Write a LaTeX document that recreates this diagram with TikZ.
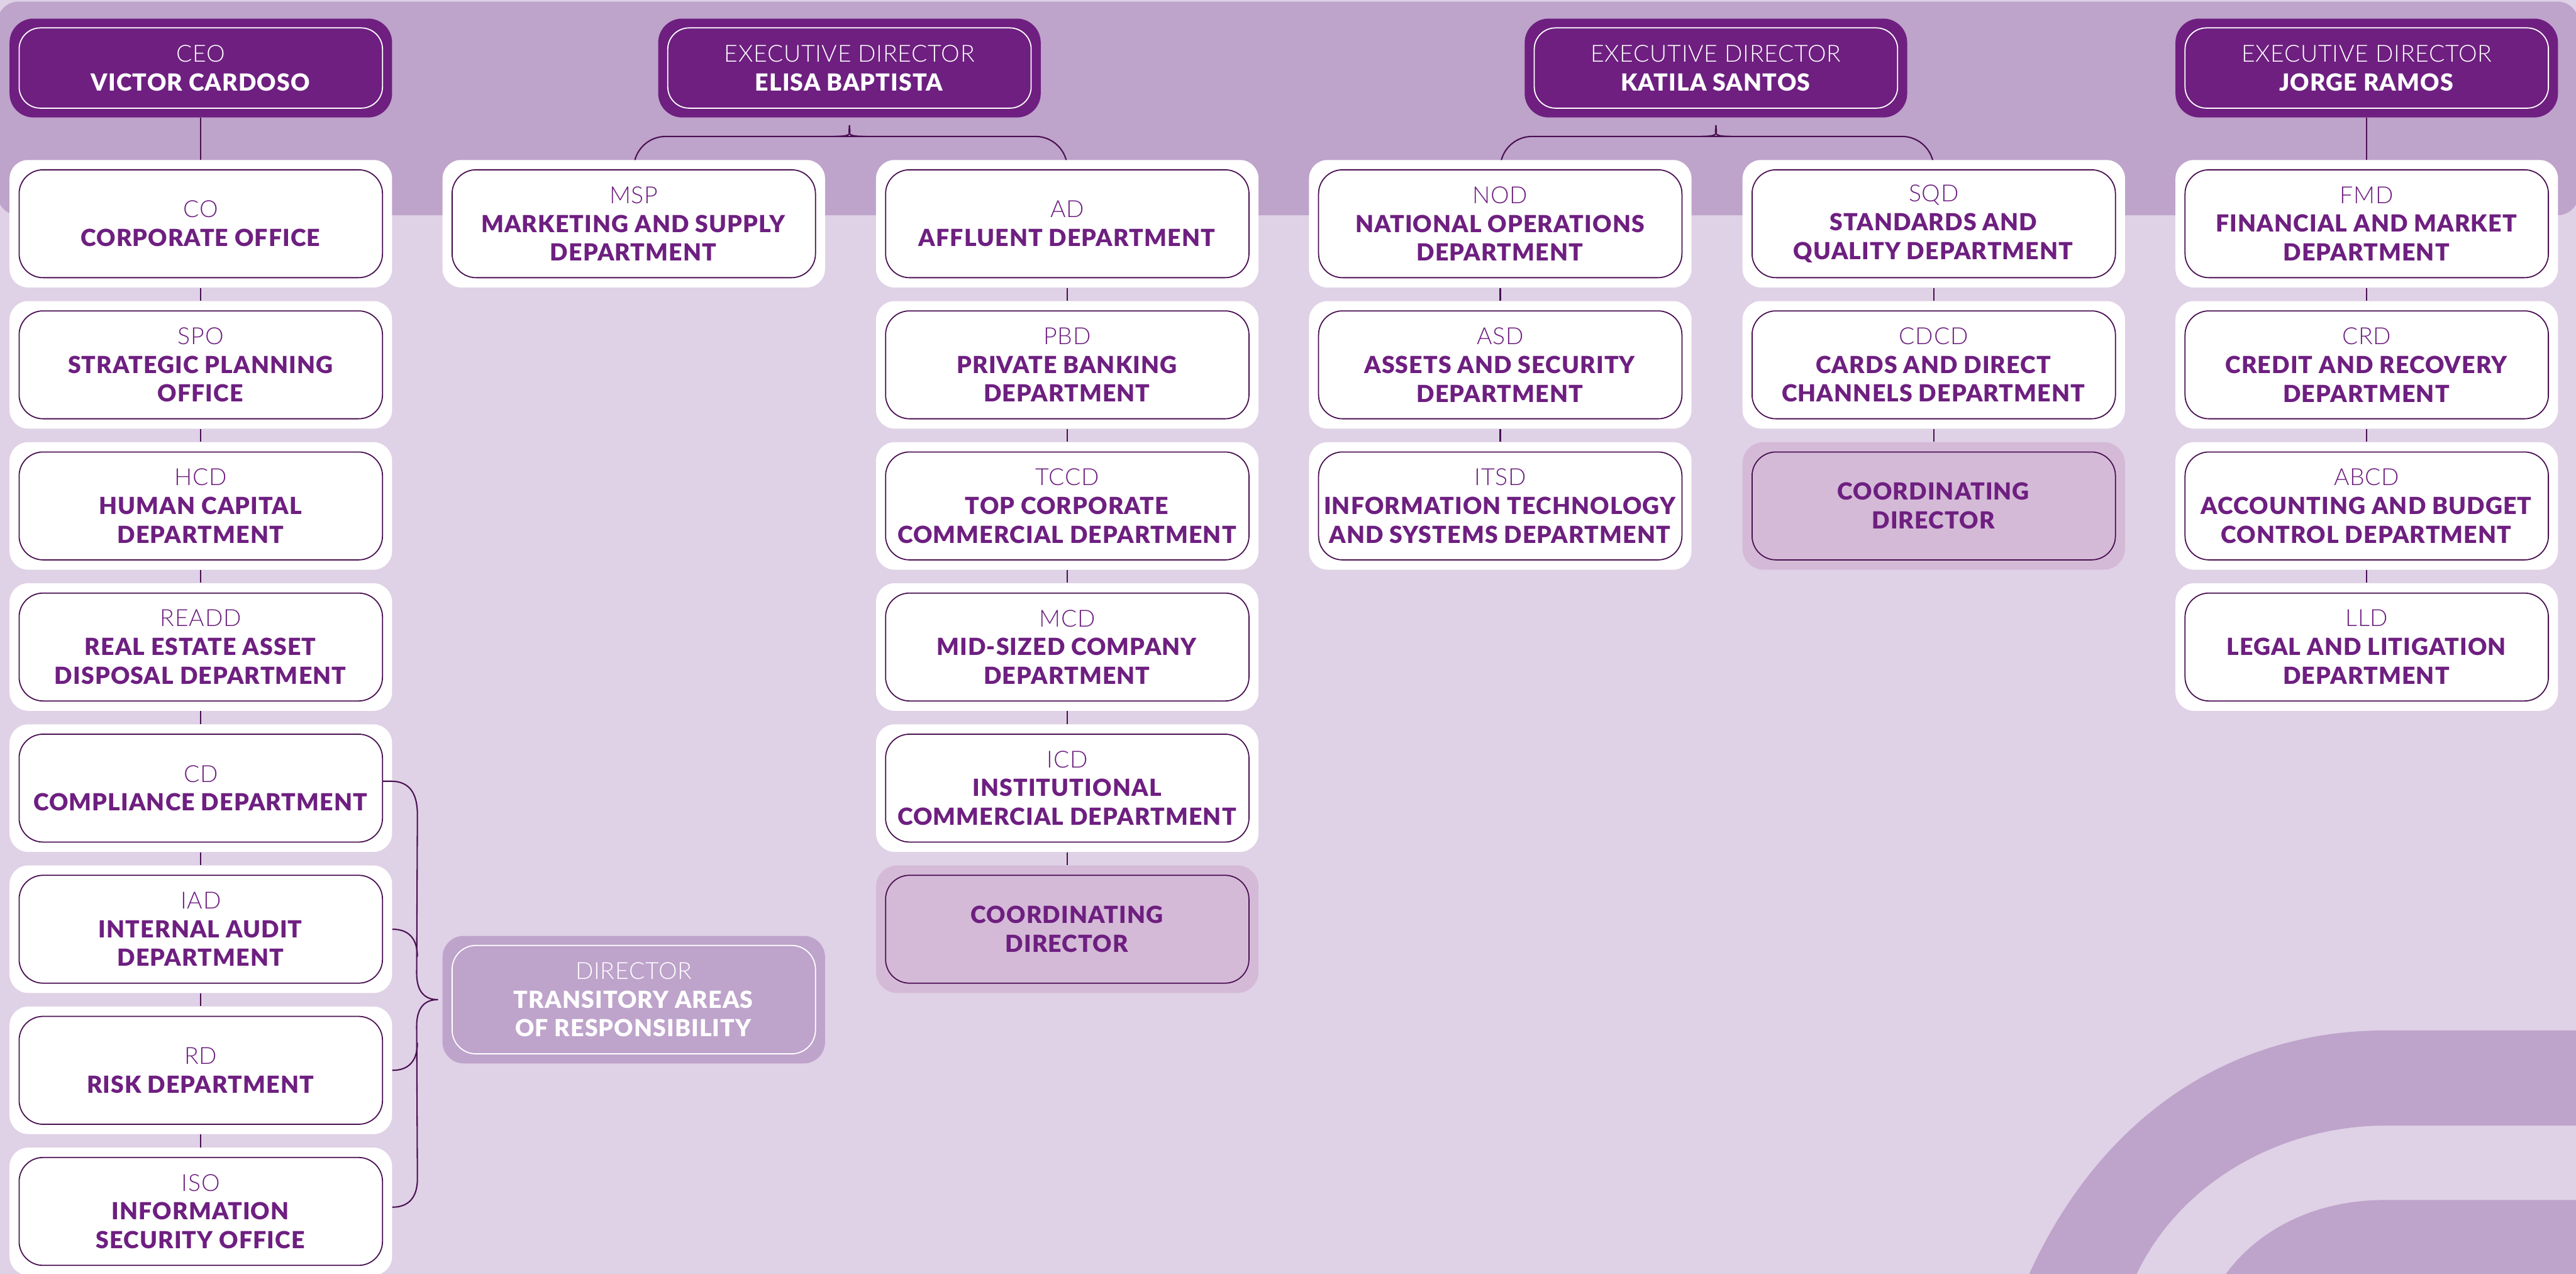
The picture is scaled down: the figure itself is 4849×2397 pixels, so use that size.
\documentclass[tikz,border=0pt]{standalone}
\usepackage{fontspec}
\setmainfont{Lato}[BoldFont={Lato Black}, BoldFeatures={LetterSpace=3}]
\newfontfamily\lightf{Lato Light}[LetterSpace=2]
\usetikzlibrary{calc}

\definecolor{bgc}{HTML}{DFD1E6}
\definecolor{bandc}{HTML}{BEA3CB}
\definecolor{purp}{HTML}{6E1F80}
\definecolor{linec}{HTML}{4A1052}
\definecolor{coordc}{HTML}{D4BAD7}

\pgfdeclarelayer{back}
\pgfdeclarelayer{links}
\pgfsetlayers{back,links,main}

\newcommand\bt[1]{\textbf{#1}}
\newcommand\lt[1]{{\lightf #1}}

\tikzset{
  boxfont/.style={font=\fontsize{12.6}{15.4}\selectfont},
  deptouter/.style={rectangle, rounded corners=3.5mm, minimum width=72mm, minimum height=24mm, inner sep=0pt, fill=white},
  deptinner/.style={rectangle, rounded corners=4.5mm, minimum width=68.4mm, minimum height=20.3mm, inner sep=0pt,
    draw=linec, line width=0.6pt, fill=white, text=purp, align=center, boxfont},
  hdouter/.style={rectangle, rounded corners=4.5mm, minimum width=72mm, minimum height=18.6mm, inner sep=0pt, fill=purp},
  hdinner/.style={rectangle, rounded corners=4mm, minimum width=68.4mm, minimum height=15.1mm, inner sep=0pt,
    draw=white, line width=0.6pt, text=white, align=center, boxfont},
  coouter/.style={rectangle, rounded corners=4mm, minimum width=72mm, minimum height=24mm, inner sep=0pt, fill=coordc},
  coinner/.style={rectangle, rounded corners=4.5mm, minimum width=68.4mm, minimum height=20.3mm, inner sep=0pt,
    draw=linec, line width=0.6pt, text=purp, align=center, boxfont},
  trouter/.style={rectangle, rounded corners=4mm, minimum width=72mm, minimum height=24mm, inner sep=0pt, fill=bandc},
  trinner/.style={rectangle, rounded corners=4.5mm, minimum width=68.4mm, minimum height=20.4mm, inner sep=0pt,
    draw=white, line width=0.6pt, text=white, align=center, boxfont},
  conn/.style={draw=linec, line width=0.7pt},
}

% department box: name, x, y, acronym, title lines
\newcommand\deptbox[5]{%
  \node[deptouter] (#1) at (#2,#3) {};
  \node[deptinner] (#1-in) at (#2,#3) {\lt{#4}\\#5};}
% executive box: name, x, y, role, person
\newcommand\headbox[5]{%
  \node[hdouter] (#1) at (#2,#3) {};
  \node[hdinner] (#1-in) at (#2,#3) {\lt{#4}\\\bt{#5}};}
% coordinating director box: name, x, y
\newcommand\coordbox[3]{%
  \node[coouter] (#1) at (#2,#3) {};
  \node[coinner] (#1-in) at (#2,#3) {\bt{COORDINATING}\\\bt{DIRECTOR}};}

\begin{document}
\begin{tikzpicture}[x=0.1mm, y=-0.1mm]
\useasboundingbox (0,0) rectangle (4849,2397);

\begin{pgfonlayer}{back}
  \fill[bgc] (0,0) rectangle (4849,2397);
  \fill[bandc, rounded corners=4mm] (-5,3) rectangle (4854,405);
  % decorative stripes, lower right
  \fill[bandc] (4489,1939) -- (4870,1939) -- (4870,2118) -- (4489,2118)
    .. controls (4300,2118) and (4100,2220) .. (4016,2410) -- (3814,2410)
    .. controls (3950,2100) and (4200,1939) .. (4489,1939) -- cycle;
  \fill[bandc] (4489,2258) -- (4870,2258) -- (4870,2410) -- (4181,2410)
    .. controls (4240,2320) and (4350,2258) .. (4489,2258) -- cycle;
\end{pgfonlayer}

% executive row
\headbox{ceo}{378}{128}{CEO}{VICTOR CARDOSO}
\headbox{elisa}{1599}{128}{EXECUTIVE DIRECTOR}{ELISA BAPTISTA}
\headbox{katila}{3230}{128}{EXECUTIVE DIRECTOR}{KATILA SANTOS}
\headbox{jorge}{4455}{128}{EXECUTIVE DIRECTOR}{JORGE RAMOS}

% column 1
\deptbox{co}{378}{421}{CO}{\bt{CORPORATE OFFICE}}
\deptbox{spo}{378}{686.5}{SPO}{\bt{STRATEGIC PLANNING}\\\bt{OFFICE}}
\deptbox{hcd}{378}{952}{HCD}{\bt{HUMAN CAPITAL}\\\bt{DEPARTMENT}}
\deptbox{readd}{378}{1217.5}{READD}{\bt{REAL ESTATE ASSET}\\\bt{DISPOSAL DEPARTMENT}}
\deptbox{cd}{378}{1483}{CD}{\bt{COMPLIANCE DEPARTMENT}}
\deptbox{iad}{378}{1748.5}{IAD}{\bt{INTERNAL AUDIT}\\\bt{DEPARTMENT}}
\deptbox{rd}{378}{2014}{RD}{\bt{RISK DEPARTMENT}}
\deptbox{iso}{378}{2279.5}{ISO}{\bt{INFORMATION}\\\bt{SECURITY OFFICE}}

% column 2
\deptbox{msp}{1193}{421}{MSP}{\bt{MARKETING AND SUPPLY}\\\bt{DEPARTMENT}}
\node[trouter] (tar) at (1193,1881) {};
\node[trinner] (tar-in) at (1193,1881) {\lt{DIRECTOR}\\\bt{TRANSITORY AREAS}\\\bt{OF RESPONSIBILITY}};

% column 3
\deptbox{ad}{2009}{421}{AD}{\bt{AFFLUENT DEPARTMENT}}
\deptbox{pbd}{2009}{686.5}{PBD}{\bt{PRIVATE BANKING}\\\bt{DEPARTMENT}}
\deptbox{tccd}{2009}{952}{TCCD}{\bt{TOP CORPORATE}\\\bt{COMMERCIAL DEPARTMENT}}
\deptbox{mcd}{2009}{1217.5}{MCD}{\bt{MID-SIZED COMPANY}\\\bt{DEPARTMENT}}
\deptbox{icd}{2009}{1483}{ICD}{\bt{INSTITUTIONAL}\\\bt{COMMERCIAL DEPARTMENT}}
\coordbox{cdir3}{2009}{1748.5}

% column 4
\deptbox{nod}{2824}{421}{NOD}{\bt{NATIONAL OPERATIONS}\\\bt{DEPARTMENT}}
\deptbox{asd}{2824}{686.5}{ASD}{\bt{ASSETS AND SECURITY}\\\bt{DEPARTMENT}}
\deptbox{itsd}{2824}{952}{ITSD}{\bt{INFORMATION TECHNOLOGY}\\\bt{AND SYSTEMS DEPARTMENT}}

% column 5
\deptbox{sqd}{3640}{421}{SQD}{\bt{STANDARDS AND}\\\bt{QUALITY DEPARTMENT}}
\deptbox{cdcd}{3640}{686.5}{CDCD}{\bt{CARDS AND DIRECT}\\\bt{CHANNELS DEPARTMENT}}
\coordbox{cdir5}{3640}{952}

% column 6
\deptbox{fmd}{4455}{421}{FMD}{\bt{FINANCIAL AND MARKET}\\\bt{DEPARTMENT}}
\deptbox{crd}{4455}{686.5}{CRD}{\bt{CREDIT AND RECOVERY}\\\bt{DEPARTMENT}}
\deptbox{abcd}{4455}{952}{ABCD}{\bt{ACCOUNTING AND BUDGET}\\\bt{CONTROL DEPARTMENT}}
\deptbox{lld}{4455}{1217.5}{LLD}{\bt{LEGAL AND LITIGATION}\\\bt{DEPARTMENT}}

% reporting lines
\begin{pgfonlayer}{links}
  \foreach \a/\b in {ceo/co, co/spo, spo/hcd, hcd/readd, readd/cd, cd/iad, iad/rd, rd/iso,
                     ad/pbd, pbd/tccd, tccd/mcd, mcd/icd, icd/cdir3,
                     nod/asd, asd/itsd, sqd/cdcd, cdcd/cdir5,
                     jorge/fmd, fmd/crd, crd/abcd, abcd/lld}
    \draw[conn] (\a.south) -- (\b.north);
  % split lines under the executive directors
  \foreach \h/\l/\r in {elisa/msp/ad, katila/nod/sqd} {
    \draw[conn] ($(\l.north)+(0,40)$) [rounded corners=6mm] |- ($(\h.south)+(-30,35)$) [sharp corners]
      .. controls +(21,0) and +(0,15) .. ($(\h.south)+(0,14)$);
    \draw[conn] ($(\r.north)+(0,40)$) [rounded corners=6mm] |- ($(\h.south)+(30,35)$) [sharp corners]
      .. controls +(-21,0) and +(0,15) .. ($(\h.south)+(0,14)$);
  }
\end{pgfonlayer}

% brace gathering the control areas under the transitory director
\coordinate (tip) at ($(tar.west)+(-8,0)$);
\draw[conn] ($(cd-in.east)+(0,-13)$) -- ++(15,0)
  .. controls +(35,0) and +(0,-40) .. ($(cd.east)+(47,50)$)
  -- ($(tip)+(-40,-50)$) .. controls +(0,35) and +(-25,0) .. (tip);
\draw[conn] (tip) .. controls +(-25,0) and +(0,-35) .. ($(tip)+(-40,50)$)
  -- ($(iso.east)+(47,-61)$) .. controls +(0,35) and +(30,0) .. ($(iso.east)+(0,-8)$);
\draw[conn] (iad.east) .. controls +(30,0) and +(0,-35) .. ($(iad.east)+(47,52)$);
\draw[conn] (rd.east) .. controls +(30,0) and +(0,35) .. ($(rd.east)+(47,-52)$);
\end{tikzpicture}
\end{document}
